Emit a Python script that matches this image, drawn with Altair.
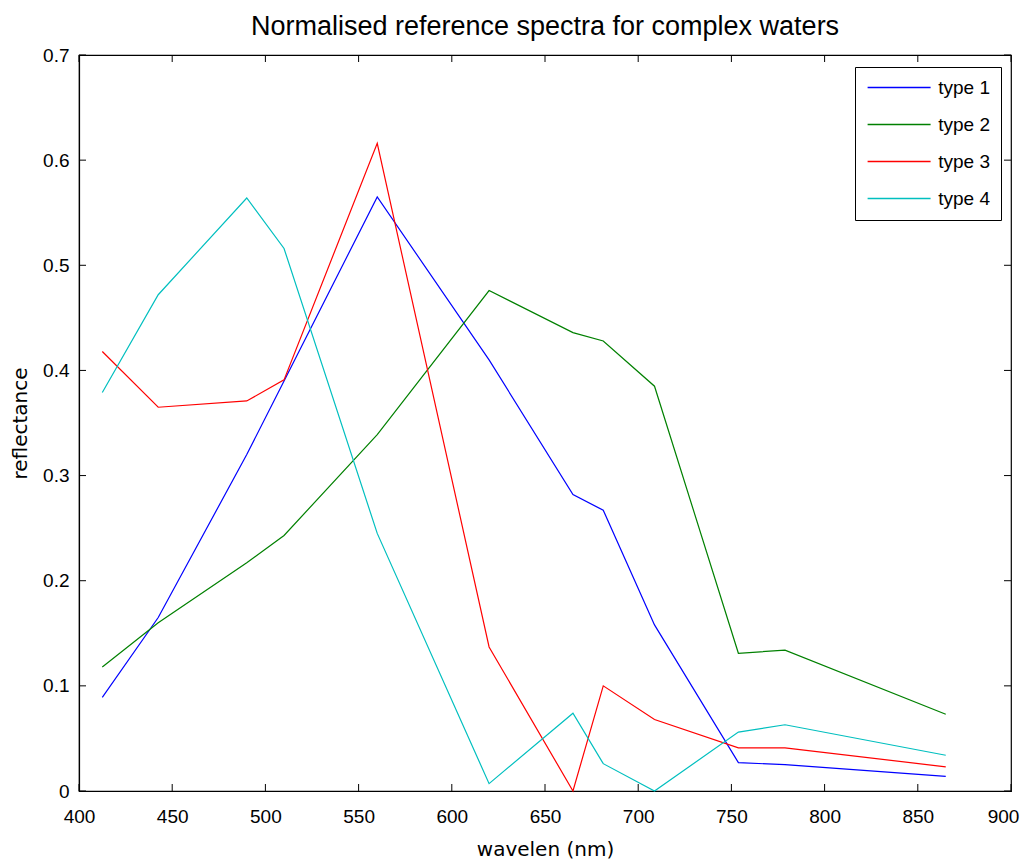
import altair as alt
import pandas as pd

wavelengths = [412.5, 442.5, 490, 510, 560, 620, 665, 681.25, 708.75, 753.75, 778.75, 865]
type1 = [0.089, 0.165, 0.32, 0.39, 0.565, 0.41, 0.282, 0.267, 0.158, 0.027, 0.025, 0.014]
type2 = [0.118, 0.160, 0.217, 0.243, 0.339, 0.476, 0.436, 0.428, 0.385, 0.131, 0.134, 0.073]
type3 = [0.418, 0.365, 0.371, 0.391, 0.616, 0.137, 0.0, 0.100, 0.068, 0.041, 0.041, 0.023]
type4 = [0.379, 0.472, 0.564, 0.516, 0.245, 0.007, 0.074, 0.026, 0.0, 0.056, 0.063, 0.034]
series_names = ["type 1", "type 2", "type 3", "type 4"]
series_colors = ["#0000ff", "#008000", "#ff0000", "#00bfbf"]
x_ticks = [400, 450, 500, 550, 600, 650, 700, 750, 800, 850, 900]
y_ticks = [0, 0.1, 0.2, 0.3, 0.4, 0.5, 0.6, 0.7]

rows = []
for name, vals in zip(series_names, [type1, type2, type3, type4]):
    for w, v in zip(wavelengths, vals):
        rows.append({"wavelength": w, "reflectance": v, "series": name})
df = pd.DataFrame(rows)
xt = pd.DataFrame({"t": x_ticks})
yt = pd.DataFrame({"t": y_ticks})

W, H = 932, 736
FONT = "Liberation Sans"
TFONT = "DejaVu Sans"

xscale = alt.Scale(domain=[400, 900], nice=False, zero=False, padding=0)
yscale = alt.Scale(domain=[0, 0.7], nice=False, padding=0)

lines = alt.Chart(df).mark_line(strokeWidth=1.2).encode(
    x=alt.X("wavelength:Q", scale=xscale,
            axis=alt.Axis(values=x_ticks, title="wavelen (nm)", ticks=False,
                          labelFlush=False, labelPadding=16, titlePadding=13, format="d",
                          labelOffset={"condition": {"test": "datum.value == 900", "value": -8},
                                       "value": 0})),
    y=alt.Y("reflectance:Q", scale=yscale,
            axis=alt.Axis(values=y_ticks, title="reflectance", ticks=False,
                          labelPadding=10, titlePadding=12, format="~g")),
    color=alt.Color("series:N",
                    scale=alt.Scale(domain=series_names, range=series_colors),
                    legend=alt.Legend(title=None, orient="none", legendX=776, legendY=12,
                                      symbolType="M-4,0H4", symbolSize=248,
                                      symbolOffset=23.6,
                                      symbolStrokeWidth=1.5, labelFontSize=19,
                                      labelOffset=29.6,
                                      fillColor="white", strokeColor="black",
                                      padding=11, rowPadding=17)),
    detail="series:N",
)

tk = alt.Chart(xt).mark_rule(color="black", strokeWidth=1)
bottom_ticks = tk.encode(x=alt.X("t:Q", scale=xscale), y=alt.value(H), y2=alt.value(H - 7))
top_ticks = tk.encode(x=alt.X("t:Q", scale=xscale), y=alt.value(0), y2=alt.value(7))
tky = alt.Chart(yt).mark_rule(color="black", strokeWidth=1)
left_ticks = tky.encode(y=alt.Y("t:Q", scale=yscale), x=alt.value(0), x2=alt.value(7))
right_ticks = tky.encode(y=alt.Y("t:Q", scale=yscale), x=alt.value(W), x2=alt.value(W - 7))

chart = alt.layer(lines, bottom_ticks, top_ticks, left_ticks, right_ticks).properties(
    width=W, height=H,
    title=alt.Title("Normalised reference spectra for complex waters", fontSize=27,
                    font=FONT, fontWeight="normal", offset=5, color="black"),
    autosize=alt.AutoSizeParams(type="none"),
    padding={"left": 71, "top": 47, "right": 9, "bottom": 72},
).configure_view(stroke="black", strokeWidth=1.2).configure_axis(
    domainColor="black", domainWidth=1.2, labelColor="black", titleColor="black",
    labelFont=FONT, titleFont=TFONT, labelFontSize=19, titleFontSize=20,
    titleFontWeight="normal", grid=False,
).configure_legend(labelFont=FONT, labelColor="black")

chart.save("out.html", embed_options={"renderer": "svg", "actions": False})
